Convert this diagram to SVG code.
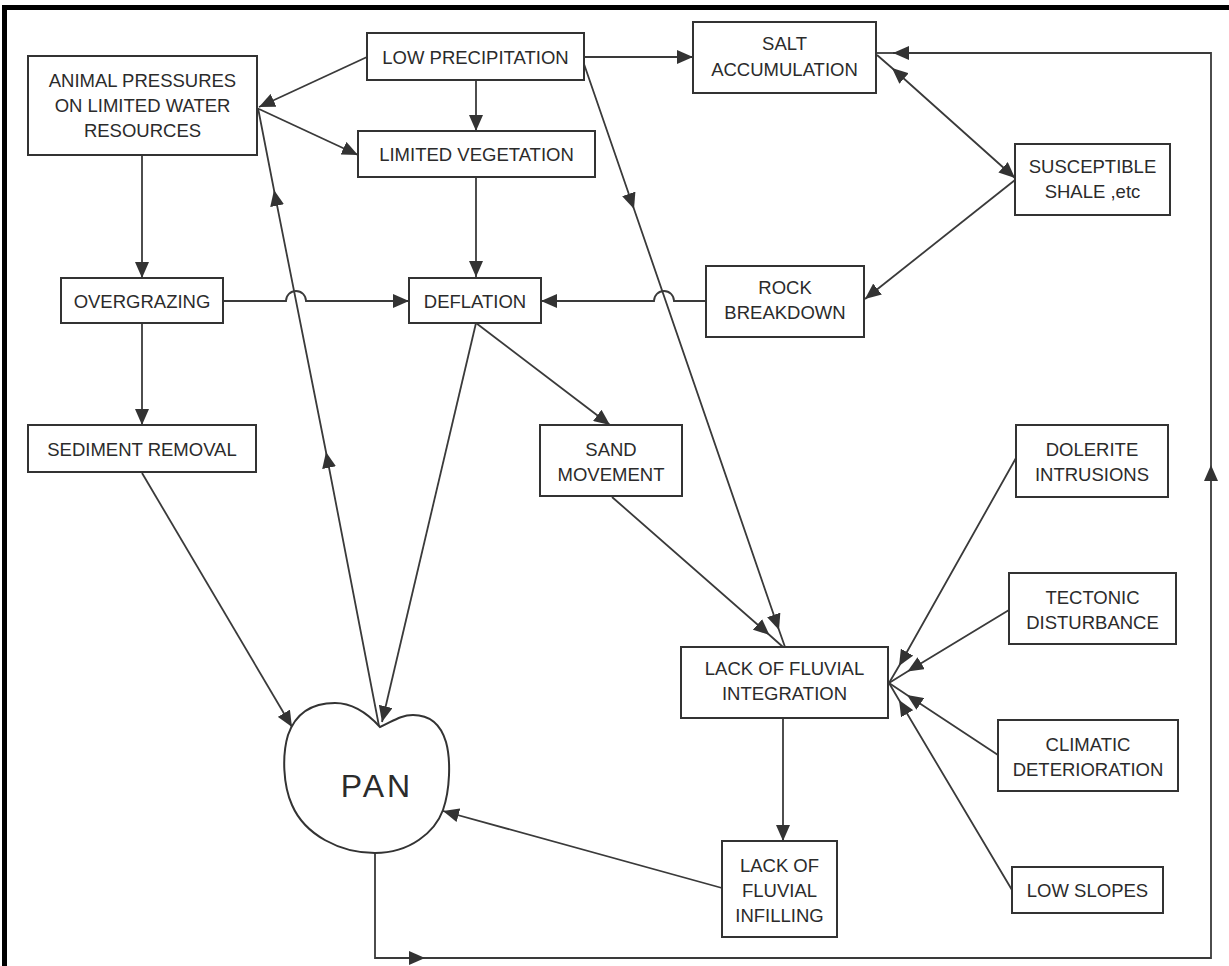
<svg xmlns="http://www.w3.org/2000/svg" width="1229" height="966" viewBox="0 0 1229 966">
<style>
  .box { fill: #ffffff; stroke: #333333; stroke-width: 2; }
  .t { font-family: "Liberation Sans", Arial, sans-serif; font-size: 18.5px; fill: #2b2b2b; text-anchor: middle; }
  .pan { font-family: "Liberation Sans", Arial, sans-serif; font-size: 32px; fill: #2b2b2b; text-anchor: middle; letter-spacing: 3px; }
  .ln { fill: none; stroke: #3a3a3a; stroke-width: 1.8; }
  .end { marker-end: url(#ah); }
  .mid { marker-mid: url(#ah); }
</style>
<defs>
  <marker id="ah" viewBox="0 0 16 14" refX="16" refY="7" markerWidth="16" markerHeight="14" markerUnits="userSpaceOnUse" orient="auto">
    <path d="M0,0 L16,7 L0,14 Z" fill="#333333"/>
  </marker>
  <marker id="ahs" viewBox="0 0 16 14" refX="16" refY="7" markerWidth="16" markerHeight="14" markerUnits="userSpaceOnUse" orient="auto-start-reverse">
    <path d="M0,0 L16,7 L0,14 Z" fill="#333333"/>
  </marker>
</defs>
<rect x="0" y="0" width="1229" height="966" fill="#ffffff"/>
<path d="M4.5,966 V7.5 H1229" fill="none" stroke="#000000" stroke-width="5"/>

<g id="connectors">
  <line class="ln end" x1="367" y1="57" x2="259" y2="107"/>
  <line class="ln end" x1="259" y1="109" x2="358" y2="155"/>
  <line class="ln end" x1="476" y1="80" x2="476" y2="131"/>
  <line class="ln end" x1="476" y1="177" x2="476" y2="277"/>
  <line class="ln end" x1="142" y1="155" x2="142" y2="278"/>
  <line class="ln end" x1="142" y1="323" x2="142" y2="425"/>
  <path class="ln end" d="M223,301 H286 A10,10 0 0 1 306,301 H409"/>
  <path class="ln end" d="M706,301 H674 A10,10 0 0 0 654,301 H541"/>
  <line class="ln end" x1="583" y1="57" x2="693" y2="57"/>
  <polyline class="ln mid" points="584,64 634,209 779,630 785,647"/>
  <polyline class="ln mid" points="612,497 769.5,635 783,647"/>
  <polyline class="ln mid" points="1015,178 892,68 877,55" style="marker-start: url(#ahs)"/>
  <line class="ln end" x1="1015" y1="180" x2="865" y2="299"/>
  <line class="ln end" x1="476" y1="323" x2="610" y2="425"/>
  <line class="ln end" x1="476" y1="323" x2="382" y2="722"/>
  <polyline class="ln mid" points="379,726 326,452 274,190 258,108"/>
  <line class="ln end" x1="142" y1="473" x2="292" y2="727"/>
  <line class="ln end" x1="722" y1="888" x2="443" y2="811"/>
  <line class="ln end" x1="783" y1="718" x2="783" y2="841"/>
  <polyline class="ln mid" points="1016,458 899,666 889,683"/>
  <polyline class="ln mid" points="1009,610 907.5,671.5 889,683"/>
  <polyline class="ln mid" points="998,755 907,695 889,683"/>
  <polyline class="ln mid" points="1012,890 899,700 889,683"/>
  <path class="ln end" d="M375,853 V958 H425"/>
  <path class="ln end" d="M425,958 H1211 V465"/>
  <path class="ln end" d="M1211,465 V53 H893"/>
  <path class="ln" d="M893,53 H877"/>
</g>

<g id="animal-pressures">
  <rect class="box" x="28" y="56" width="229" height="99"/>
  <text class="t" x="142.5" y="86.5">ANIMAL PRESSURES</text>
  <text class="t" x="142.5" y="111.5">ON LIMITED WATER</text>
  <text class="t" x="142.5" y="136.5">RESOURCES</text>
</g>
<g id="low-precipitation">
  <rect class="box" x="367" y="33" width="217" height="47"/>
  <text class="t" x="475.5" y="63.5">LOW PRECIPITATION</text>
</g>
<g id="salt-accumulation">
  <rect class="box" x="693" y="22" width="183" height="71"/>
  <text class="t" x="784.5" y="50">SALT</text>
  <text class="t" x="784.5" y="76">ACCUMULATION</text>
</g>
<g id="limited-vegetation">
  <rect class="box" x="358" y="131" width="237" height="46"/>
  <text class="t" x="476.5" y="161">LIMITED VEGETATION</text>
</g>
<g id="susceptible-shale">
  <rect class="box" x="1015" y="144" width="155" height="71"/>
  <text class="t" x="1092.5" y="173">SUSCEPTIBLE</text>
  <text class="t" x="1092.5" y="198">SHALE ,etc</text>
</g>
<g id="overgrazing">
  <rect class="box" x="61" y="278" width="162" height="45"/>
  <text class="t" x="142" y="308">OVERGRAZING</text>
</g>
<g id="deflation">
  <rect class="box" x="409" y="278" width="132" height="45"/>
  <text class="t" x="475" y="308">DEFLATION</text>
</g>
<g id="rock-breakdown">
  <rect class="box" x="706" y="266" width="158" height="71"/>
  <text class="t" x="785" y="294">ROCK</text>
  <text class="t" x="785" y="319">BREAKDOWN</text>
</g>
<g id="sediment-removal">
  <rect class="box" x="28" y="425" width="228" height="47"/>
  <text class="t" x="142" y="455.5">SEDIMENT REMOVAL</text>
</g>
<g id="sand-movement">
  <rect class="box" x="540" y="425" width="142" height="71"/>
  <text class="t" x="611" y="456">SAND</text>
  <text class="t" x="611" y="481">MOVEMENT</text>
</g>
<g id="dolerite-intrusions">
  <rect class="box" x="1016" y="425" width="152" height="72"/>
  <text class="t" x="1092" y="456">DOLERITE</text>
  <text class="t" x="1092" y="481">INTRUSIONS</text>
</g>
<g id="tectonic-disturbance">
  <rect class="box" x="1009" y="573" width="167" height="71"/>
  <text class="t" x="1092.5" y="604">TECTONIC</text>
  <text class="t" x="1092.5" y="629">DISTURBANCE</text>
</g>
<g id="lack-fluvial-integration">
  <rect class="box" x="681" y="647" width="207" height="71"/>
  <text class="t" x="784.5" y="675">LACK OF FLUVIAL</text>
  <text class="t" x="784.5" y="700">INTEGRATION</text>
</g>
<g id="climatic-deterioration">
  <rect class="box" x="998" y="720" width="180" height="71"/>
  <text class="t" x="1088" y="751">CLIMATIC</text>
  <text class="t" x="1088" y="776">DETERIORATION</text>
</g>
<g id="low-slopes">
  <rect class="box" x="1012" y="867" width="151" height="46"/>
  <text class="t" x="1087.5" y="897">LOW SLOPES</text>
</g>
<g id="lack-fluvial-infilling">
  <rect class="box" x="722" y="841" width="115" height="96"/>
  <text class="t" x="779.5" y="872">LACK OF</text>
  <text class="t" x="779.5" y="897">FLUVIAL</text>
  <text class="t" x="779.5" y="922">INFILLING</text>
</g>
<g id="pan">
  <path class="box" d="M380,727 C370,716 355,703 335,703 C310,703 295,715 288,735 C282,755 283,785 292,805 C305,835 340,853 375,853 C410,853 435,832 443,810 C450,790 451,760 446,742 C440,722 428,715 413,715 C400,715 392,722 380,727 Z"/>
  <text class="pan" x="377" y="797">PAN</text>
</g>
</svg>
